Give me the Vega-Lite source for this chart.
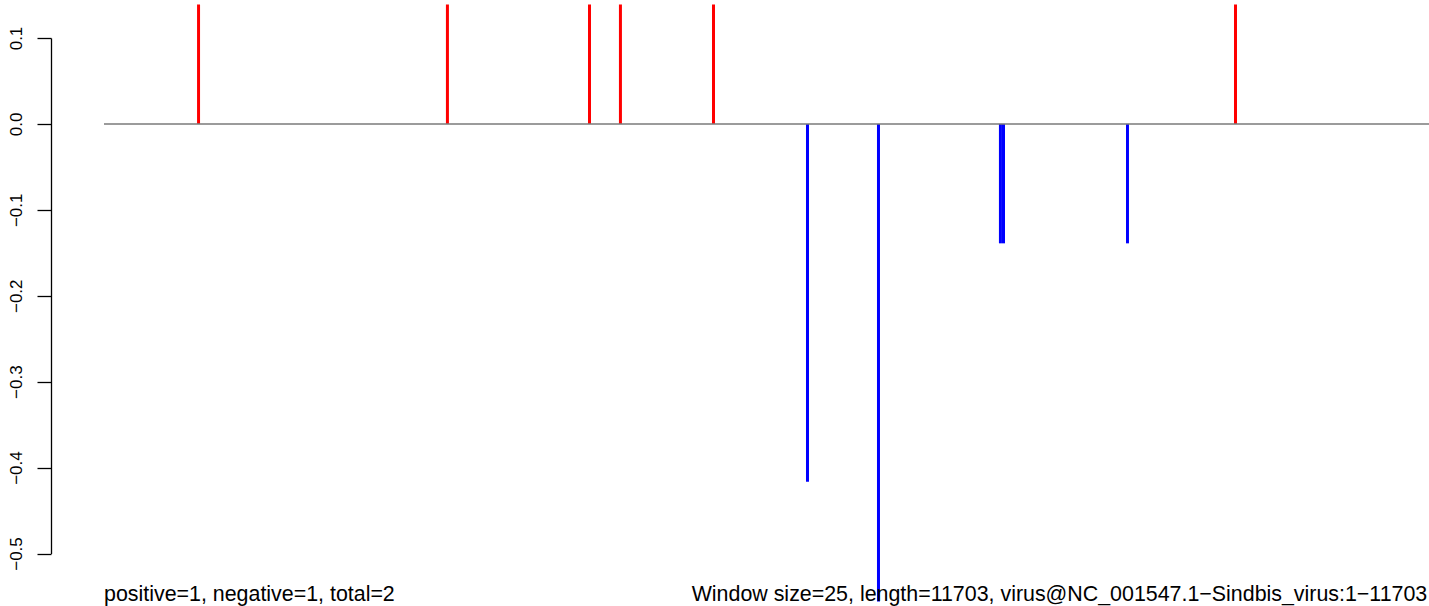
{
  "$schema": "https://vega.github.io/schema/vega-lite/v6.json",
  "autosize": "none",
  "width": 1325,
  "height": 515.5,
  "padding": {"left": 104, "top": 38, "right": 0, "bottom": 52.5},
  "background": "white",
  "config": {"view": {"stroke": null}},
  "datasets": {
    "hits": [
      {"pos": 836, "value": 0.139, "strand": "positive"},
      {"pos": 3034, "value": 0.139, "strand": "positive"},
      {"pos": 4289, "value": 0.139, "strand": "positive"},
      {"pos": 4562, "value": 0.139, "strand": "positive"},
      {"pos": 5384, "value": 0.139, "strand": "positive"},
      {"pos": 9994, "value": 0.139, "strand": "positive"},
      {"pos": 6214, "value": -0.4164, "strand": "negative"},
      {"pos": 6841, "value": -0.556, "strand": "negative"},
      {"pos": 7918, "value": -0.139, "strand": "negative"},
      {"pos": 7945, "value": -0.139, "strand": "negative"},
      {"pos": 9040, "value": -0.139, "strand": "negative"}
    ],
    "baseline": [
      {"start": 1, "end": 11703, "level": 0}
    ],
    "notes": [
      {"x": 1, "y": -0.5553, "label": "positive=1, negative=1, total=2"},
      {"x": 5191, "y": -0.5553, "label": "Window size=25, length=11703, virus@NC_001547.1−Sindbis_virus:1−11703"}
    ]
  },
  "data": {"name": "hits"},
  "layer": [
    {
      "data": {"name": "hits"},
      "mark": {"type": "rule", "strokeWidth": 3, "clip": false},
      "encoding": {
        "x": {"field": "pos", "type": "quantitative", "scale": {"domain": [1, 11703], "nice": false, "zero": false}, "axis": null},
        "y": {"field": "value", "type": "quantitative", "scale": {"domain": [-0.5, 0.1], "nice": false, "zero": false},
          "axis": {
            "values": [-0.5, -0.4, -0.3, -0.2, -0.1, 0, 0.1],
            "format": ".1f",
            "title": null,
            "grid": false,
            "offset": 53,
            "tickSize": 14,
            "tickColor": "black",
            "tickWidth": 1.3,
            "domainColor": "black",
            "domainWidth": 1.3,
            "labelAngle": 270,
            "labelAlign": "center",
            "labelBaseline": "alphabetic",
            "labelPadding": 16,
            "labelFont": "Liberation Sans",
            "labelFontSize": 17,
            "labelColor": "black"
          }},
        "y2": {"datum": 0},
        "color": {"field": "strand", "type": "nominal", "scale": {"domain": ["positive", "negative"], "range": ["#FF0000", "#0000FF"]}, "legend": null}
      }
    },
    {
      "data": {"name": "baseline"},
      "mark": {"type": "rule", "color": "#7a7a7a", "strokeWidth": 1.5},
      "encoding": {
        "x": {"field": "start", "type": "quantitative"},
        "x2": {"field": "end"},
        "y": {"field": "level", "type": "quantitative"}
      }
    },
    {
      "data": {"name": "notes"},
      "mark": {"type": "text", "align": "left", "baseline": "alphabetic", "font": "Liberation Sans", "fontSize": 21.4, "color": "black", "clip": false},
      "encoding": {
        "x": {"field": "x", "type": "quantitative"},
        "y": {"field": "y", "type": "quantitative"},
        "text": {"field": "label"}
      }
    }
  ]
}
